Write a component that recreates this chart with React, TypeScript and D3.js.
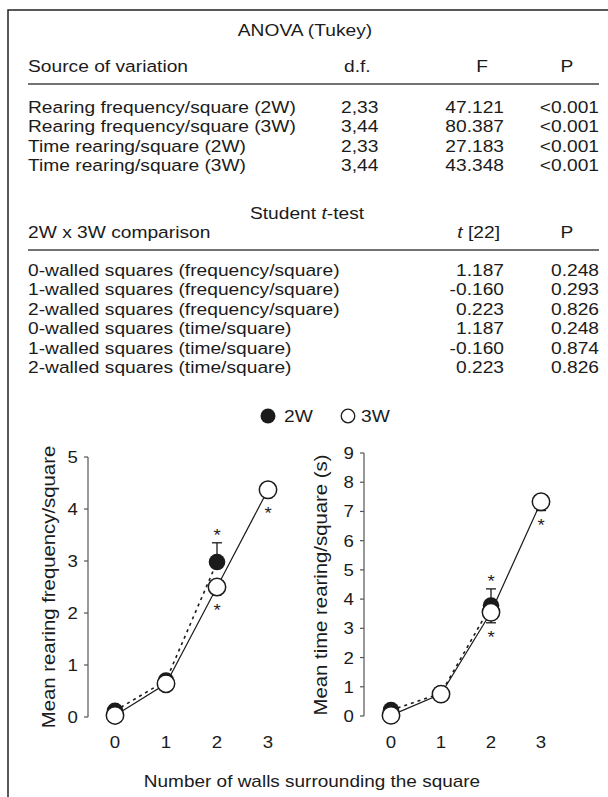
import * as d3 from 'd3';

// ANOVA table
const anovaSources = [
	'Rearing frequency/square (2W)',
	'Rearing frequency/square (3W)',
	'Time rearing/square (2W)',
	'Time rearing/square (3W)',
];
const anovaDf = ['2,33', '3,44', '2,33', '3,44'];
const anovaF = ['47.121', '80.387', '27.183', '43.348'];
const anovaP = ['<0.001', '<0.001', '<0.001', '<0.001'];

// Student t-test table
const tComparisons = [
	'0-walled squares (frequency/square)',
	'1-walled squares (frequency/square)',
	'2-walled squares (frequency/square)',
	'0-walled squares (time/square)',
	'1-walled squares (time/square)',
	'2-walled squares (time/square)',
];
const tValues = ['1.187', '-0.160', '0.223', '1.187', '-0.160', '0.223'];
const tP = ['0.248', '0.293', '0.826', '0.248', '0.874', '0.826'];

// charts
const walls = [0, 1, 2, 3];
const freq2W = [0.12, 0.70, 2.98];
const freq2WErr = [0.05, 0.05, 0.37];
const freq3W = [0.03, 0.64, 2.50, 4.37];
const freq3WErr = [0.03, 0.05, 0.15, 0.15];
const time2W = [0.20, 0.78, 3.78];
const time2WErr = [0.1, 0.1, 0.57];
const time3W = [0.02, 0.75, 3.55, 7.33];
const time3WErr = [0.03, 0.1, 0.36, 0.3];
const star2W = [false, false, true];
const star3W = [false, false, true, true];

const SX = 1.13;
const INK = '#1b1b1b';
const FONT = '"Liberation Sans", Arial, Helvetica, sans-serif';

// text drawn slightly wide, like the printed face
function T({ x, y, size = 17, anchor = 'start', rot = 0, children }) {
	return (
		<text
			transform={`translate(${x},${y}) rotate(${rot}) scale(${SX},1)`}
			textAnchor={anchor}
			fontSize={size}
			fill={INK}
		>{children}</text>
	);
}

function Chart({ xRange, yMax, yRange, label, labelX, labelY, v2, e2, v3, e3 }) {
	const x = d3.scaleLinear().domain([0, 3]).range(xRange);
	const y = d3.scaleLinear().domain([0, yMax]).range(yRange);
	const line = d3.line().x((d, i) => x(walls[i])).y(d => y(d));
	const axisX = xRange[0] - 27;
	const ticks = y.ticks(yMax);

	return (
		<g>
			{/* y axis */}
			<line x1={axisX} x2={axisX} y1={y(0)} y2={y(yMax)} stroke="#555" strokeWidth={1.2} />
			{ticks.map(t => (
				<g key={t}>
					<line x1={axisX - 4} x2={axisX} y1={y(t)} y2={y(t)} stroke="#555" strokeWidth={1.2} />
					<T x={axisX - 10} y={y(t) + 6} size={16.5} anchor="end">{t}</T>
				</g>
			))}
			{walls.map(w => (
				<T key={w} x={x(w)} y={748} size={16.5} anchor="middle">{w}</T>
			))}
			<T x={labelX} y={labelY} size={18} anchor="middle" rot={-90}>{label}</T>

			{/* lines */}
			<path d={line(v3)} fill="none" stroke={INK} strokeWidth={1.2} />
			<path d={line(v2)} fill="none" stroke={INK} strokeWidth={1.6} strokeDasharray="3,4" />

			{/* error bars: 2W up, 3W down */}
			{v2.map((v, i) => (
				<g key={'e2' + i} stroke={INK} strokeWidth={1.3}>
					<line x1={x(i)} x2={x(i)} y1={y(v)} y2={y(v + e2[i])} />
					<line x1={x(i) - 5} x2={x(i) + 5} y1={y(v + e2[i])} y2={y(v + e2[i])} />
				</g>
			))}
			{v3.map((v, i) => (
				<g key={'e3' + i} stroke={INK} strokeWidth={1.3}>
					<line x1={x(i)} x2={x(i)} y1={y(v)} y2={y(v - e3[i])} />
					<line x1={x(i) - 5} x2={x(i) + 5} y1={y(v - e3[i])} y2={y(v - e3[i])} />
				</g>
			))}

			{v2.map((v, i) => (
				<circle key={'c2' + i} cx={x(i)} cy={y(v)} r={8.3} fill={INK} />
			))}
			{v3.map((v, i) => (
				<circle key={'c3' + i} cx={x(i)} cy={y(v)} r={8.7} fill="#fff" stroke={INK} strokeWidth={1.5} />
			))}

			{/* significance */}
			{v2.map((v, i) => star2W[i] && (
				<T key={'s2' + i} x={x(i)} y={y(v + e2[i]) - 2} size={16.5} anchor="middle">*</T>
			))}
			{v3.map((v, i) => star3W[i] && (
				<T key={'s3' + i} x={x(i)} y={Math.max(y(v) + 20, y(v - e3[i]) + 11) + 9} size={16.5} anchor="middle">*</T>
			))}
		</g>
	);
}

export default function App() {
	const rowA = 19.3;
	const rowT = 19.4;
	return (
		<svg width={608} height={797} style={{ position: 'absolute', left: 0, top: 0, background: '#fff' }} fontFamily={FONT}>
			<rect width={608} height={797} fill="#fff" />
			{/* frame */}
			<path d="M8,797 V10 H608" fill="none" stroke="#222" strokeWidth={1.5} />

			{/* ANOVA */}
			<T x={305} y={36} anchor="middle">ANOVA (Tukey)</T>
			<T x={28} y={72}>Source of variation</T>
			<T x={344} y={72}>d.f.</T>
			<T x={482} y={72} anchor="middle">F</T>
			<T x={567} y={72} anchor="middle">P</T>
			<line x1={28} x2={599} y1={84} y2={84} stroke="#444" strokeWidth={1.5} />
			{anovaSources.map((s, i) => (
				<g key={s}>
					<T x={28} y={113 + i * rowA}>{s}</T>
					<T x={341} y={113 + i * rowA}>{anovaDf[i]}</T>
					<T x={504} y={113 + i * rowA} anchor="end">{anovaF[i]}</T>
					<T x={599} y={113 + i * rowA} anchor="end">{anovaP[i]}</T>
				</g>
			))}

			{/* t-test */}
			<text transform={`translate(307,219) scale(${SX},1)`} textAnchor="middle" fontSize={17} fill={INK}>
				Student <tspan fontStyle="italic">t</tspan>-test
			</text>
			<T x={28} y={238}>2W x 3W comparison</T>
			<text transform={`translate(500,238) scale(${SX},1)`} textAnchor="end" fontSize={17} fill={INK}>
				<tspan fontStyle="italic">t</tspan> [22]
			</text>
			<T x={567} y={238} anchor="middle">P</T>
			<line x1={28} x2={599} y1={250} y2={250} stroke="#444" strokeWidth={1.5} />
			{tComparisons.map((s, i) => (
				<g key={s}>
					<T x={28} y={276 + i * rowT}>{s}</T>
					<T x={504} y={276 + i * rowT} anchor="end">{tValues[i]}</T>
					<T x={599} y={276 + i * rowT} anchor="end">{tP[i]}</T>
				</g>
			))}

			{/* legend */}
			<circle cx={268} cy={416} r={7.5} fill={INK} />
			<T x={284} y={422}>2W</T>
			<circle cx={348} cy={416} r={6.8} fill="#fff" stroke={INK} strokeWidth={1.3} />
			<T x={361} y={422}>3W</T>

			<Chart xRange={[115, 268]} yMax={5} yRange={[717, 457]} label="Mean rearing frequency/square"
				labelX={55} labelY={587} v2={freq2W} e2={freq2WErr} v3={freq3W} e3={freq3WErr} />
			<Chart xRange={[391, 541]} yMax={9} yRange={[716, 453]} label="Mean time rearing/square (s)"
				labelX={327} labelY={585} v2={time2W} e2={time2WErr} v3={time3W} e3={time3WErr} />

			<T x={312} y={787} size={16.8} anchor="middle">Number of walls surrounding the square</T>
		</svg>
	);
}
